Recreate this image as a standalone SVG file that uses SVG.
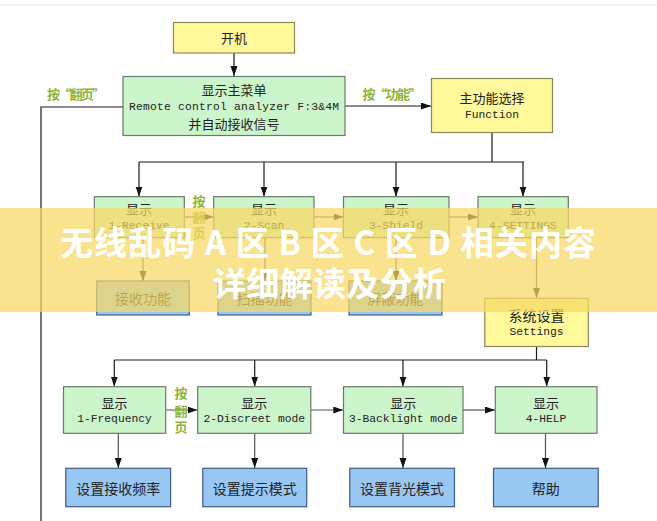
<svg xmlns="http://www.w3.org/2000/svg" width="657" height="521" viewBox="0 0 657 521">
<style>
.g{fill:#ccf5cc;stroke:#6a7a6a;stroke-width:1.2}
.y{fill:#fff99c;stroke:#8a8858;stroke-width:1.2}
.b{fill:#99c7f3;stroke:#3e5d86;stroke-width:1.2}
.cn{font-family:"Noto Sans CJK SC","Noto Sans",sans-serif;font-size:13px;fill:#222;text-anchor:middle;dominant-baseline:central}
.cb{font-family:"Noto Sans CJK SC","Noto Sans",sans-serif;font-size:14px;fill:#222;text-anchor:middle;dominant-baseline:central}
.mo{font-family:"Liberation Mono","DejaVu Sans Mono",monospace;font-size:11.3px;fill:#222;text-anchor:middle;dominant-baseline:central}
.lb{font-family:"Noto Sans CJK SC",sans-serif;font-size:13px;font-weight:bold;fill:#8db43a;text-anchor:middle;dominant-baseline:central}
.ln{fill:none;stroke:#1a1a1a;stroke-width:1.2}
.lg{fill:none;stroke:#555;stroke-width:1.2}
.bn{font-family:"Noto Sans CJK SC",sans-serif;font-size:33px;font-weight:bold;fill:#fff;text-anchor:middle;dominant-baseline:central}
</style>
<defs>
<marker id="ah" markerUnits="userSpaceOnUse" markerWidth="10" markerHeight="8" refX="10" refY="3.5" orient="auto">
<path d="M0,0 L10,3.5 L0,7 z" fill="#111"/>
</marker>
</defs>
<rect x="0" y="0" width="657" height="521" fill="#fff"/>
<line x1="0" y1="5" x2="657" y2="5" stroke="#e2e2e2" stroke-width="1"/>

<g id="connectors">
<path class="ln" d="M234,53 V76" marker-end="url(#ah)"/>
<path class="ln" d="M345,106 H431" marker-end="url(#ah)"/>
<path class="ln" d="M123,107 H41 V521"/>
<path class="ln" d="M492,132 V162 M139,162 H524"/>
<path class="ln" d="M139,162 V196.5" marker-end="url(#ah)"/>
<path class="ln" d="M264,162 V196.5" marker-end="url(#ah)"/>
<path class="ln" d="M396,162 V196.5" marker-end="url(#ah)"/>
<path class="ln" d="M523,162 V196.5" marker-end="url(#ah)"/>
<path class="lg" d="M184,217 H213.5" marker-end="url(#ah)"/>
<path class="lg" d="M314,217 H343.5" marker-end="url(#ah)"/>
<path class="lg" d="M449,217 H478" marker-end="url(#ah)"/>
<path class="lg" d="M143,238 V281" marker-end="url(#ah)"/>
<path class="lg" d="M265,238 V281" marker-end="url(#ah)"/>
<path class="lg" d="M396,238 V281" marker-end="url(#ah)"/>
<path class="lg" d="M536.5,238 V298" marker-end="url(#ah)"/>
<path class="ln" d="M536.5,346.5 V360 M114.3,360 H546.7"/>
<path class="ln" d="M114.3,360 V386.5" marker-end="url(#ah)"/>
<path class="ln" d="M254.7,360 V386.5" marker-end="url(#ah)"/>
<path class="ln" d="M403,360 V386.5" marker-end="url(#ah)"/>
<path class="ln" d="M546.7,360 V386.5" marker-end="url(#ah)"/>
<path class="lg" d="M165.7,410 H197.5" marker-end="url(#ah)"/>
<path class="lg" d="M310.8,410 H343.3" marker-end="url(#ah)"/>
<path class="lg" d="M463,410 H495" marker-end="url(#ah)"/>
<path class="lg" d="M118.3,433.3 V468" marker-end="url(#ah)"/>
<path class="lg" d="M254.7,433.3 V468" marker-end="url(#ah)"/>
<path class="lg" d="M403,433.3 V468" marker-end="url(#ah)"/>
<path class="lg" d="M545.5,433.3 V468" marker-end="url(#ah)"/>
</g>

<g id="labels">
<text class="lb" x="76" y="93.5" textLength="58">按“翻页”</text>
<text class="lb" x="392" y="93.5" textLength="59">按“功能”</text>
<text class="lb" x="199" y="200" font-size="14">按</text>
<text class="lb" x="199" y="216.5" font-size="14">翻</text>
<text class="lb" x="199" y="232" font-size="14">页</text>
<text class="lb" x="181" y="392.5" font-size="14">按</text>
<text class="lb" x="181" y="410" font-size="14">翻</text>
<text class="lb" x="181" y="426.5" font-size="14">页</text>
</g>

<g id="n-start"><rect class="y" x="173.5" y="22.5" width="121" height="30.5"/><text class="cn" x="234" y="37.5">开机</text></g>
<g id="n-main"><rect class="g" x="123" y="76.5" width="222" height="59"/>
<text class="cn" x="234" y="89">显示主菜单</text>
<text class="mo" x="234" y="106.5" font-size="11.7" textLength="210">Remote control analyzer F:3&amp;4M</text>
<text class="cn" x="234" y="123">并自动接收信号</text></g>
<g id="n-function"><rect class="y" x="431.5" y="78.5" width="121" height="54"/>
<text class="cn" x="492" y="97.5">主功能选择</text><text class="mo" x="492" y="114.5">Function</text></g>

<g id="n-receive"><rect class="g" x="94.3" y="196.7" width="90" height="41"/><text class="cn" x="139" y="208.5">显示</text><text class="mo" x="139" y="225.5">1-Receive</text></g>
<g id="n-scan"><rect class="g" x="213.7" y="196.7" width="100.3" height="41"/><text class="cn" x="264" y="208.5">显示</text><text class="mo" x="264" y="225.5">2-Scan</text></g>
<g id="n-shield"><rect class="g" x="343.5" y="196.7" width="105.5" height="41"/><text class="cn" x="396" y="208.5">显示</text><text class="mo" x="396" y="225.5">3-Shield</text></g>
<g id="n-settings-menu"><rect class="g" x="478" y="196.7" width="90.3" height="41"/><text class="cn" x="523" y="208.5">显示</text><text class="mo" x="523" y="225.5">4-SETTINGS</text></g>

<g id="n-recvfn"><rect class="b" x="96.7" y="281" width="92.6" height="34"/><text class="cb" x="143" y="298">接收功能</text></g>
<g id="n-scanfn"><rect class="b" x="218" y="281" width="93" height="34"/><text class="cb" x="264.5" y="298">扫描功能</text></g>
<g id="n-shieldfn"><rect class="b" x="349" y="281" width="93" height="34"/><text class="cb" x="395.5" y="298">屏蔽功能</text></g>

<g id="n-settings"><rect class="y" x="484.8" y="298.3" width="103.5" height="48.2"/>
<text class="cb" x="536.5" y="314.5">系统设置</text><text class="mo" x="536.5" y="331.5" font-size="12">Settings</text></g>

<g id="n-freq"><rect class="g" x="63.5" y="386.7" width="102.2" height="46.6"/><text class="cn" x="114.5" y="402.3">显示</text><text class="mo" x="114.5" y="419.3">1-Frequency</text></g>
<g id="n-discreet"><rect class="g" x="197.7" y="386.7" width="113.1" height="46.6"/><text class="cn" x="254.3" y="402.3">显示</text><text class="mo" x="254.3" y="419.3">2-Discreet mode</text></g>
<g id="n-backlight"><rect class="g" x="343.5" y="386.7" width="119.5" height="46.6"/><text class="cn" x="403.2" y="402.3">显示</text><text class="mo" x="403.2" y="419.3">3-Backlight mode</text></g>
<g id="n-help"><rect class="g" x="495.3" y="386.7" width="101.7" height="46.6"/><text class="cn" x="546" y="402.3">显示</text><text class="mo" x="546" y="419.3">4-HELP</text></g>

<g id="n-setfreq"><rect class="b" x="65.8" y="468.3" width="104.8" height="38.4"/><text class="cb" x="118.2" y="488">设置接收频率</text></g>
<g id="n-setprompt"><rect class="b" x="202.8" y="468.3" width="103.9" height="38.4"/><text class="cb" x="254.7" y="488">设置提示模式</text></g>
<g id="n-setback"><rect class="b" x="349.8" y="468.3" width="104.7" height="38.4"/><text class="cb" x="402.1" y="488">设置背光模式</text></g>
<g id="n-helpbox"><rect class="b" x="493.5" y="468.3" width="104.7" height="38.4"/><text class="cb" x="545.8" y="488">帮助</text></g>

<g id="banner">
<rect x="0" y="208" width="657" height="104" fill="#f8d862" opacity="0.72"/>
<text class="bn" x="328" y="241" textLength="536" lengthAdjust="spacing">无线乱码 A 区 B 区 C 区 D 相关内容</text>
<text class="bn" x="329.5" y="281.5" textLength="233" lengthAdjust="spacing">详细解读及分析</text>
</g>
</svg>
